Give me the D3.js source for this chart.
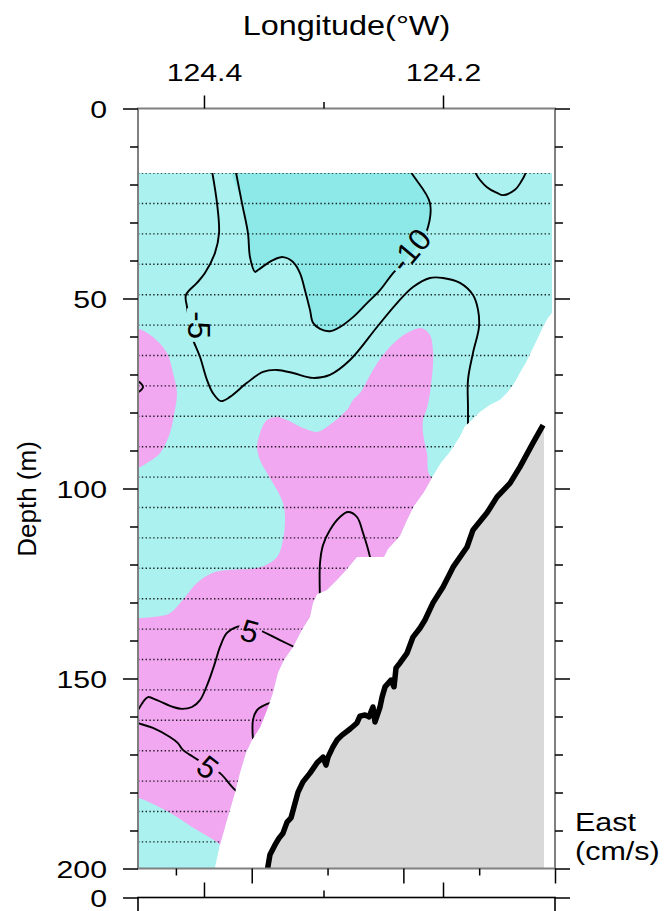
<!DOCTYPE html>
<html>
<head>
<meta charset="utf-8">
<script src="https://cdn.jsdelivr.net/npm/d3@7"></script>
<style>
  body { margin: 0; background: #fff; }
  svg { display: block; }
</style>
</head>
<body>
<svg id="chart" width="667" height="911"></svg>
<script>
// ---- axis ticks ----
const depthTicks = [0, 50, 100, 150, 200];
const depthMinorTicks = [0, 10, 20, 30, 40, 50, 60, 70, 80, 90, 100, 110, 120, 130, 140, 150, 160, 170, 180, 190, 200];
const lowerPanelTicks = [0];
const lonTicks = [124.4, 124.3, 124.2];
const lonTickLabels = ["124.4", "", "124.2"];
const kmTicks = [0, 5, 10, 15, 20, 25];
const kmMajor = [0, 10, 20];

// ADCP bin depths (m), first good bin at 17 m
const binDepths = [17, 25, 33, 41, 49, 57, 65, 73, 81, 89, 97, 105, 113, 121, 129, 137, 145, 153, 161, 169, 177, 185, 193];
const dataTop = 17;
const lonWest = 124.4552, lonEast = 124.1063;

// edge of valid data near the bottom (lon W, depth m)
const noDataEdge = [[124.1088,53.8],[124.1121,55.1],[124.1163,57.5],[124.1213,60.9],[124.1255,63.6],[124.1297,66.4],[124.1356,69.6],[124.1406,72.5],[124.1464,74.9],[124.1523,76.7],[124.1607,78.0],[124.1690,79.9],[124.1757,82.0],[124.1816,83.6],[124.1858,86.4],[124.1941,90.4],[124.2017,93.3],[124.2092,97.2],[124.2159,100.9],[124.2243,104.6],[124.2301,108.3],[124.2360,112.5],[124.2460,115.9],[124.2494,118.0],[124.2720,118.0],[124.2803,121.2],[124.2887,124.1],[124.2971,126.7],[124.3054,127.8],[124.3088,130.1],[124.3113,133.8],[124.3180,137.2],[124.3255,141.7],[124.3331,145.1],[124.3381,148.5],[124.3423,153.8],[124.3473,158.3],[124.3531,162.8],[124.3598,166.2],[124.3649,169.6],[124.3699,174.9],[124.3741,180.1],[124.3808,187.3],[124.3866,193.8],[124.3908,200]];

// eastward velocity regions (lon W, depth m)
const pinkWest = [[124.4600,57.5],[124.4552,57.8],[124.4427,60.1],[124.4310,64.3],[124.4259,69.6],[124.4226,74.9],[124.4243,79.3],[124.4285,85.4],[124.4368,90.7],[124.4477,93.3],[124.4552,94.6],[124.4600,94.8]];
const pinkMain = [[124.2176,57.8],[124.2109,59.6],[124.2084,63.6],[124.2084,67.5],[124.2109,74.9],[124.2134,78.8],[124.2167,82.0],[124.2167,85.4],[124.2134,90.7],[124.2092,97.2],[124.1021,97.2],[124.1021,201],[124.3699,201],[124.3866,193.8],[124.4059,189.9],[124.4285,185.3],[124.4552,181.4],[124.4600,181.2],[124.4600,134.2],[124.4552,134.1],[124.4427,133.8],[124.4285,132.8],[124.4176,129.3],[124.4059,124.9],[124.3925,122.2],[124.3782,121.4],[124.3531,120.7],[124.3389,118.0],[124.3339,113.6],[124.3322,107.5],[124.3339,103.8],[124.3389,100.4],[124.3473,95.9],[124.3531,92.5],[124.3556,89.1],[124.3531,85.4],[124.3473,82.0],[124.3389,81.2],[124.3305,82.0],[124.3172,84.1],[124.3054,85.1],[124.2971,83.8],[124.2803,79.3],[124.2753,76.7],[124.2695,74.9],[124.2586,68.8],[124.2469,63.6],[124.2301,59.1]];
const pinkCore = [[124.3590,168],[124.3590,160.9],[124.3556,158.3],[124.3506,157.2],[124.3448,156.4],[124.3364,156.2],[124.3364,168]];

// contour lines (lon W, depth m)
const contourM10 = [[124.3762,12],[124.3682,24.9],[124.3632,32.8],[124.3615,39.1],[124.3573,43.0],[124.3548,42.5],[124.3423,39.9],[124.3339,39.1],[124.3255,40.4],[124.3197,43.3],[124.3155,47.8],[124.3113,53.0],[124.3088,56.4],[124.3029,58.0],[124.2946,58.6],[124.2862,57.5],[124.2753,54.9],[124.2636,51.2],[124.2527,47.8],[124.2418,43.3],[124.2335,40.7],[124.2192,35.4],[124.2142,32.8],[124.2109,24.9],[124.2259,17.2],[124.2364,12]];
const contourM5 = [[124.3958,12],[124.3891,24.9],[124.3874,32.8],[124.3908,38.0],[124.3992,43.3],[124.4059,45.9],[124.4151,49.1],[124.4142,52.2],[124.4117,57.0],[124.4100,60.1],[124.4033,65.4],[124.3975,71.4],[124.3925,74.9],[124.3858,77.0],[124.3782,75.9],[124.3640,72.2],[124.3506,69.3],[124.3389,68.8],[124.3255,69.6],[124.3088,70.9],[124.2946,70.1],[124.2778,66.2],[124.2552,57.5],[124.2385,51.2],[124.2251,47.0],[124.2109,44.6],[124.2000,44.6],[124.1858,45.9],[124.1749,49.1],[124.1707,53.0],[124.1699,57.5],[124.1749,64.3],[124.1791,71.4],[124.1791,78.6],[124.1791,84.5]];
const contourM5East = [[124.1757,13.6],[124.1724,17.2],[124.1632,20.7],[124.1548,22.2],[124.1498,22.8],[124.1398,21.4],[124.1347,19.3],[124.1305,16.7],[124.1280,13.6]];
const contourM5Edge = [[124.4575,71.2],[124.4510,73.3],[124.4575,75.2]];
const contourP5Bump = [[124.3029,129],[124.3029,119.6],[124.3004,114.9],[124.2946,110.9],[124.2862,107.5],[124.2795,106.2],[124.2720,107.5],[124.2669,111.7],[124.2611,118.0],[124.2600,120]];
const contourP5Upper = [[124.3213,142.2],[124.3364,139.9],[124.3556,137.0],[124.3657,136.2],[124.3724,136.4],[124.3808,138.0],[124.3866,141.7],[124.3908,145.9],[124.3967,151.2],[124.4033,155.7],[124.4100,157.5],[124.4184,158.0],[124.4259,157.5],[124.4393,155.7],[124.4469,154.9],[124.4510,156.2],[124.4552,158.3],[124.4578,159.4]];
const contourP5Lower = [[124.4580,161.0],[124.4552,161.7],[124.4427,163.0],[124.4285,165.4],[124.4218,167.0],[124.4176,168.8],[124.4092,170.6],[124.3967,173.0],[124.3866,174.9],[124.3757,178.8],[124.3715,180.1]];
const contourP10 = [[124.3590,166],[124.3590,160.9],[124.3556,158.3],[124.3506,157.2],[124.3448,156.4],[124.3400,156.2]];

const contourLabels = [
  { text: "-10", lon: 124.2276, depth: 37.2, angle: -50 },
  { text: "-5", lon: 124.4042, depth: 57.0, angle: 90 },
  { text: "5", lon: 124.3615, depth: 137.5, angle: 16 },
  { text: "5", lon: 124.3967, depth: 173.3, angle: 38 }
];

// sea floor (lon W, depth m)
const bottomLonEast = 124.1155;
const bathymetry = [[124.1163,83.3],[124.1247,88.0],[124.1356,94.3],[124.1439,98.6],[124.1548,102.2],[124.1632,106.4],[124.1749,110.9],[124.1799,115.4],[124.1916,120.7],[124.2000,125.9],[124.2084,130.1],[124.2151,134.6],[124.2192,136.7],[124.2251,139.1],[124.2301,143.3],[124.2360,145.9],[124.2393,147.2],[124.2410,152.2],[124.2435,150.4],[124.2485,152.2],[124.2510,154.9],[124.2527,157.5],[124.2569,161.4],[124.2586,157.5],[124.2619,160.1],[124.2653,159.6],[124.2695,159.9],[124.2720,161.7],[124.2778,163.3],[124.2845,164.9],[124.2887,166.2],[124.2921,168.0],[124.2962,170.7],[124.2979,172.8],[124.3004,170.7],[124.3054,172.2],[124.3113,174.9],[124.3172,177.2],[124.3213,179.9],[124.3247,183.8],[124.3272,186.7],[124.3305,187.8],[124.3339,190.7],[124.3372,192.0],[124.3406,193.8],[124.3448,196.4],[124.3473,201]];

const colors = { cyan: "#aaf1f0", deepCyan: "#8ce9e8", pink: "#f1a8f1", deepPink: "#ea8eea", land: "#d9d9d9", frame: "#808080" };
const fontFamily = "'Liberation Sans', Arial, Helvetica, sans-serif";
const stretch = 1.26;

const svg = d3.select("#chart");
const x = d3.scaleLinear().domain([lonWest, lonEast]).range([138, 555]);
const y = d3.scaleLinear().domain([0, 200]).range([108.5, 868.5]);
const y2 = d3.scaleLinear().domain([0, 200]).range([897.5, 1657.5]);
const xKm = d3.scaleLinear().domain([27.5, 0]).range([138, 555]);

const straight = d3.line().x(d => x(d[0])).y(d => y(d[1]));
const smooth = d3.line().x(d => x(d[0])).y(d => y(d[1])).curve(d3.curveCatmullRom.alpha(0.5));
const smoothClosed = d3.line().x(d => x(d[0])).y(d => y(d[1])).curve(d3.curveCatmullRomClosed.alpha(0.5));

const dataPoly = [[lonWest, dataTop], [noDataEdge[0][0], dataTop], ...noDataEdge, [lonWest, 200]];

const defs = svg.append("defs");
defs.append("clipPath").attr("id", "clip-data").append("path").attr("d", straight(dataPoly) + "Z");
defs.append("clipPath").attr("id", "clip-frame").append("rect")
  .attr("x", x(lonWest)).attr("y", y(0)).attr("width", x(lonEast) - x(lonWest)).attr("height", y(200) - y(0));

/** filled velocity **/
const fills = svg.append("g").attr("clip-path", "url(#clip-data)");
fills.append("path").attr("d", straight(dataPoly) + "Z").attr("fill", colors.cyan);
[pinkWest, pinkMain].forEach(p => fills.append("path").attr("d", smoothClosed(p)).attr("fill", colors.pink));
fills.append("path").attr("d", smoothClosed(contourM10)).attr("fill", colors.deepCyan);
fills.append("path").attr("d", straight(pinkCore) + "Z").attr("fill", colors.deepPink);

/** bins **/
fills.append("g").selectAll("line").data(binDepths).join("line")
  .attr("x1", x(lonWest)).attr("x2", x(lonEast))
  .attr("y1", d => y(d)).attr("y2", d => y(d))
  .attr("stroke", "#000").attr("stroke-opacity", 0.85)
  .attr("stroke-width", 1.4).attr("stroke-dasharray", "1.4 2.4");

/** contour labels **/
const labelG = svg.append("g").attr("font-family", fontFamily).attr("font-size", 31)
  .attr("text-anchor", "middle").attr("fill", "#000");
const labelNodes = contourLabels.map(l => labelG.append("text")
  .attr("transform", `translate(${x(l.lon)},${y(l.depth)}) rotate(${l.angle})`)
  .attr("dy", "0.36em").text(l.text));

const mask = defs.append("mask").attr("id", "label-mask").attr("maskUnits", "userSpaceOnUse")
  .attr("x", 0).attr("y", 0).attr("width", 667).attr("height", 911);
mask.append("rect").attr("width", 667).attr("height", 911).attr("fill", "#fff");
contourLabels.forEach((l, i) => {
  const w = labelNodes[i].node().getComputedTextLength() + 6;
  const h = 24;
  mask.append("rect").attr("x", -w / 2).attr("y", -h / 2).attr("width", w).attr("height", h)
    .attr("transform", `translate(${x(l.lon)},${y(l.depth)}) rotate(${l.angle})`).attr("fill", "#000");
});

/** contour lines **/
const lines = svg.insert("g", () => labelG.node()).attr("clip-path", "url(#clip-data)")
  .append("g").attr("mask", "url(#label-mask)");
[contourM10, contourM5, contourM5East, contourM5Edge, contourP5Bump, contourP5Upper, contourP5Lower, contourP10]
  .forEach(c => lines.append("path").attr("d", smooth(c)).attr("fill", "none")
    .attr("stroke", "#000").attr("stroke-width", 1.9).attr("stroke-linejoin", "round"));

/** sea floor **/
const land = svg.append("g").attr("clip-path", "url(#clip-frame)");
land.append("path")
  .attr("d", straight([...bathymetry, [bottomLonEast, 201], [bottomLonEast, bathymetry[0][1]]]) + "Z")
  .attr("fill", colors.land);
land.append("path").attr("d", straight(bathymetry)).attr("fill", "none")
  .attr("stroke", "#000").attr("stroke-width", 5.5).attr("stroke-linejoin", "round");

/** frames **/
svg.append("rect").attr("x", x(lonWest)).attr("y", y(0))
  .attr("width", x(lonEast) - x(lonWest)).attr("height", y(200) - y(0))
  .attr("fill", "none").attr("stroke", colors.frame).attr("stroke-width", 2);
svg.append("rect").attr("x", x(lonWest)).attr("y", y2(0))
  .attr("width", x(lonEast) - x(lonWest)).attr("height", y2(200) - y2(0))
  .attr("fill", "none").attr("stroke", "#000").attr("stroke-width", 1.6);

/** axes **/
const styleAxis = g => {
  g.select(".domain").remove();
  g.selectAll(".tick line").attr("stroke", "#000").attr("stroke-width", 1.5);
  g.selectAll(".tick text").attr("font-family", fontFamily).attr("font-size", 24).attr("fill", "#000");
};

const depthAxes = (scale, values) => {
  const gl = svg.append("g").attr("transform", `translate(${x(lonWest)},0)`)
    .call(d3.axisLeft(scale).tickValues(values).tickSize(15)
      .tickFormat(d => depthTicks.includes(d) ? d : ""))
    .call(styleAxis);
  gl.selectAll(".tick line").attr("x2", d => depthTicks.includes(d) ? -15 : -8);
  gl.selectAll(".tick text").attr("x", 0).attr("dy", "0.36em")
    .attr("transform", `translate(-31,0) scale(${stretch},1)`);

  const gr = svg.append("g").attr("transform", `translate(${x(lonEast)},0)`)
    .call(d3.axisRight(scale).tickValues(values).tickSize(15).tickFormat(""))
    .call(styleAxis);
  gr.selectAll(".tick line").attr("x2", d => depthTicks.includes(d) ? 15 : 8);
  gr.selectAll(".tick text").remove();
};
depthAxes(y, depthMinorTicks);
depthAxes(y2, lowerPanelTicks);

const gt = svg.append("g").attr("transform", `translate(0,${y(0)})`)
  .call(d3.axisTop(x).tickValues(lonTicks).tickSize(13).tickFormat((d, i) => lonTickLabels[i]))
  .call(styleAxis);
gt.selectAll(".tick line").attr("y2", (d, i) => lonTickLabels[i] ? -13 : -6.5);
gt.selectAll(".tick text").attr("y", 0).attr("dy", 0)
  .attr("transform", `translate(0,-28) scale(${stretch},1)`);

const gt2 = svg.append("g").attr("transform", `translate(0,${y2(0)})`)
  .call(d3.axisTop(x).tickValues(lonTicks).tickSize(15).tickFormat(""))
  .call(styleAxis);
gt2.selectAll(".tick line").attr("y2", (d, i) => lonTickLabels[i] ? -15 : -7);
gt2.selectAll(".tick text").remove();

const gb = svg.append("g").attr("transform", `translate(0,${y(200)})`)
  .call(d3.axisBottom(xKm).tickValues(kmTicks).tickSize(15).tickFormat(""))
  .call(styleAxis);
gb.selectAll(".tick line").attr("y2", d => kmMajor.includes(d) ? 15 : 7);
gb.selectAll(".tick text").remove();

/** titles **/
const title = (txt, tx, ty, size, sx, rot, anchor) => svg.append("text")
  .attr("transform", `translate(${tx},${ty}) rotate(${rot || 0}) scale(${sx},1)`)
  .attr("font-family", fontFamily).attr("font-size", size).attr("fill", "#000")
  .attr("text-anchor", anchor || "middle").text(txt);

title("Longitude(°W)", (x(lonWest) + x(lonEast)) / 2, 35, 27, 1.2);
title("Depth (m)", 36, 499, 26, 1, -90);
title("East", 575, 831, 25, 1.22, 0, "start");
title("(cm/s)", 575, 860, 25, 1.22, 0, "start");
</script>
</body>
</html>
